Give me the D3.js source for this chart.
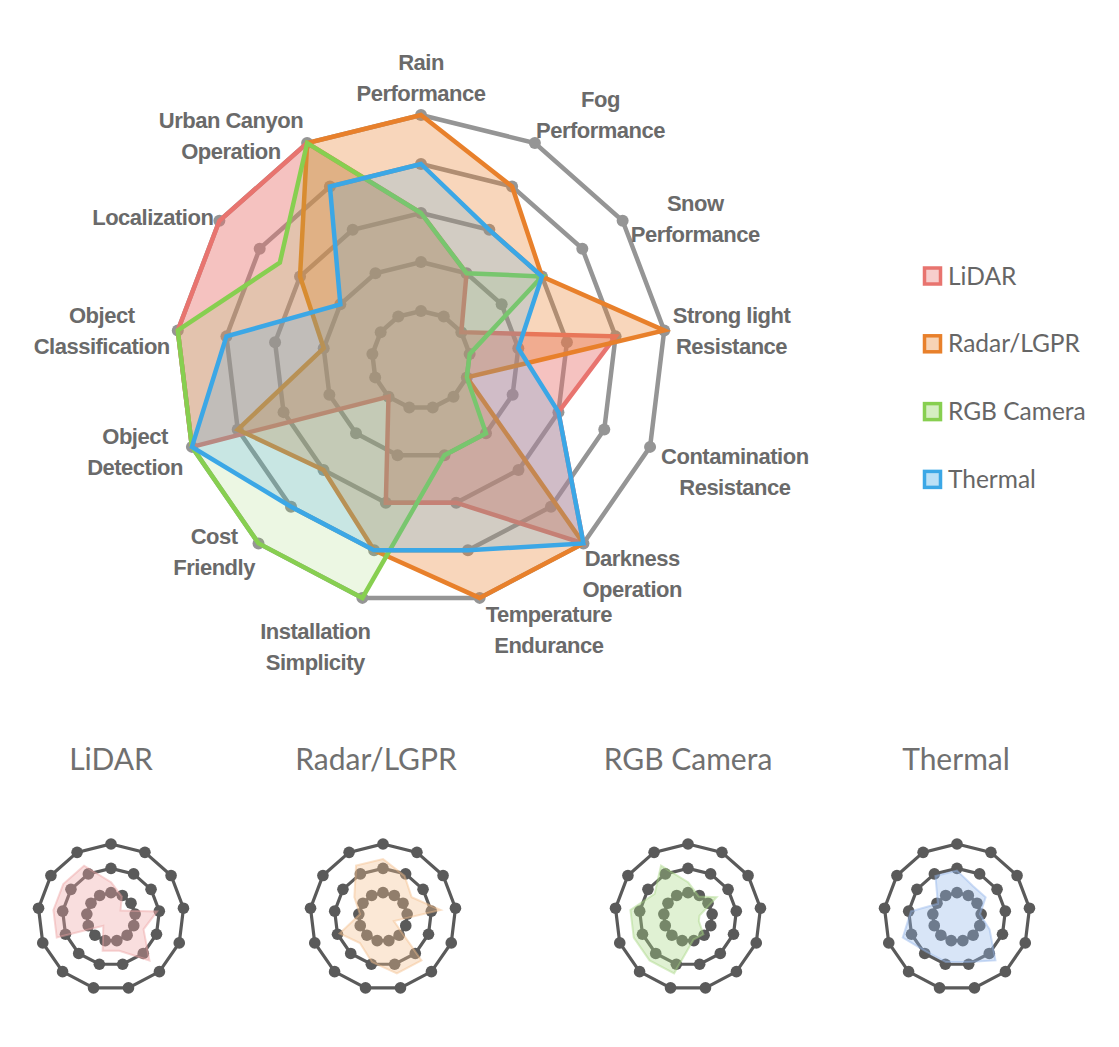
<!DOCTYPE html>
<html>
<head>
<meta charset="utf-8">
<script src="https://cdn.jsdelivr.net/npm/d3@7"></script>
<style>
body { margin: 0; background: #fff; }
.axis-label { font-family: "Liberation Sans", Arial, sans-serif; font-weight: bold; font-size: 22px; letter-spacing: -0.5px; fill: #6a6a6a; }
.legend-text { font-family: Lato, "Open Sans", sans-serif; font-size: 24.5px; fill: #666; }
.mini-title { font-family: Lato, "Open Sans", sans-serif; font-size: 30px; fill: #707070; }
</style>
</head>
<body>
<svg id="chart" width="1119" height="1047"></svg>
<script>

//------------------------------------------------------------------------------
// Data

var axisLabels = [
	['Rain', 'Performance'],
	['Fog', 'Performance'],
	['Snow', 'Performance'],
	['Strong light', 'Resistance'],
	['Contamination', 'Resistance'],
	['Darkness', 'Operation'],
	['Temperature', 'Endurance'],
	['Installation', 'Simplicity'],
	['Cost', 'Friendly'],
	['Object', 'Detection'],
	['Object', 'Classification'],
	['Localization'],
	['Urban Canyon', 'Operation']
];

var sensors = ['LiDAR', 'Radar/LGPR', 'RGB Camera', 'Thermal'];

var lidar   = [3, 2, 1, 4, 3, 5, 3, 3, 1, 5, 5, 5,   5];
var radar   = [5, 4, 3, 5, 1, 5, 5, 4, 3, 4, 2, 3,   5];
var rgb     = [3, 2, 3, 1, 1, 2, 2, 5, 5, 5, 5, 3.5, 5];
var thermal = [4, 3, 3, 2, 3, 5, 4, 4, 4, 5, 4, 2,   4];

var levels     = [1, 2, 3, 4, 5];
var miniLevels = [1, 2, 3];

//------------------------------------------------------------------------------
// Layout

var colors     = ['#e8746f', '#e8802b', '#87cf50', '#3ba7e6'];
var fillAlpha  = [0.44, 0.32, 0.16, 0.2];
var miniFill   = ['#eea3a3', '#f3bf8c', '#a9d884', '#94b6ea'];

var cx = 421, cy = 360;
var r = d3.scaleLinear().domain([0, 5]).range([0, 245]);
var angle = d3.scaleLinear().domain([0, axisLabels.length]).range([0, 2 * Math.PI]);

// small hand tweaks so labels sit where the original put them
var labelNudge = [
	[0, -7], [-5, -1], [2, 15], [2, 4], [5, 14], [-7, 7], [0, 2],
	[14, 19], [3, -15], [-3, -6], [-2, 4], [0, 5], [2, 20]
];

var miniX      = [111, 383, 688, 957];
var miniTitleX = [111, 376, 688, 956];
var miniY = 917;
var miniRing  = d3.scaleLinear().domain([0, 3]).range([0, 73]);
var miniShape = d3.scaleLinear().domain([0, 5]).range([0, 58]);

var svg = d3.select('#chart');

function point(scale, i, v)
{
	var a = angle(i);
	return [scale(v) * Math.sin(a), -scale(v) * Math.cos(a)];
}

var idx = d3.range(axisLabels.length);
var radarLine = d3.line().curve(d3.curveLinearClosed);

//------------------------------------------------------------------------------
// Main radar

var main = svg.append('g').attr('transform', 'translate(' + cx + ',' + cy + ')');

var grid = main.append('g').attr('class', 'grid');
levels.forEach(function (lv) {
	grid.append('path')
		.attr('d', radarLine(idx.map(function (i) { return point(r, i, lv); })))
		.attr('fill', 'none')
		.attr('stroke', '#959595')
		.attr('stroke-width', 4.5);
	grid.selectAll(null)
		.data(idx)
		.enter().append('circle')
		.attr('cx', function (i) { return point(r, i, lv)[0]; })
		.attr('cy', function (i) { return point(r, i, lv)[1]; })
		.attr('r', 6)
		.attr('fill', '#959595');
});

[lidar, radar, rgb, thermal].forEach(function (vals, s) {
	var d = radarLine(vals.map(function (v, i) { return point(r, i, v); }));
	main.append('path')
		.attr('d', d)
		.attr('fill', colors[s])
		.attr('fill-opacity', fillAlpha[s]);
	main.append('path')
		.attr('d', d)
		.attr('fill', 'none')
		.attr('stroke', colors[s])
		.attr('stroke-width', 4.5)
		.attr('stroke-linejoin', 'miter');
});

// axis labels
var labels = svg.append('g');
axisLabels.forEach(function (lines, i) {
	var a = angle(i), sn = Math.sin(a), cs = Math.cos(a);
	var vx = cx + r(5) * sn, vy = cy - r(5) * cs;
	var t = labels.append('text').attr('class', 'axis-label').attr('text-anchor', 'middle');
	lines.forEach(function (s, k) {
		t.append('tspan').attr('x', 0).attr('y', k * 31).text(s);
	});
	var w = t.node().getBBox().width;
	var gap = 6;
	var bx = Math.abs(sn) < 0.1 ? vx : (sn > 0 ? vx + gap + w / 2 : vx - gap - w / 2);
	var by = vy - cs * lines.length * 15.5;
	bx += labelNudge[i][0];
	by += labelNudge[i][1];
	var b1 = by - (lines.length - 1) * 15.5 + 8;
	t.attr('transform', 'translate(' + bx + ',' + b1 + ')');
});

//------------------------------------------------------------------------------
// Legend

var legend = svg.append('g').attr('transform', 'translate(923,276)');
sensors.forEach(function (name, s) {
	var g = legend.append('g').attr('transform', 'translate(0,' + (s * 67.8) + ')');
	g.append('rect')
		.attr('x', 1.5).attr('y', -8)
		.attr('width', 16).attr('height', 16)
		.attr('fill', colors[s]).attr('fill-opacity', 0.35)
		.attr('stroke', colors[s]).attr('stroke-width', 3.5);
	g.append('text')
		.attr('class', 'legend-text')
		.attr('x', 25).attr('y', 8.5)
		.text(name);
});

//------------------------------------------------------------------------------
// Small multiples

[lidar, radar, rgb, thermal].forEach(function (vals, s) {
	svg.append('text')
		.attr('class', 'mini-title')
		.attr('x', miniTitleX[s]).attr('y', 770)
		.attr('text-anchor', 'middle')
		.text(sensors[s]);

	var g = svg.append('g').attr('transform', 'translate(' + miniX[s] + ',' + miniY + ')');

	miniLevels.forEach(function (lv) {
		g.append('path')
			.attr('d', radarLine(idx.map(function (i) { return point(miniRing, i, lv); })))
			.attr('fill', 'none')
			.attr('stroke', '#5a5a5a')
			.attr('stroke-width', 3.2);
		g.selectAll(null)
			.data(idx)
			.enter().append('circle')
			.attr('cx', function (i) { return point(miniRing, i, lv)[0]; })
			.attr('cy', function (i) { return point(miniRing, i, lv)[1]; })
			.attr('r', 5.8)
			.attr('fill', '#5a5a5a');
	});

	var d = radarLine(vals.map(function (v, i) { return point(miniShape, i, v); }));
	g.append('path')
		.attr('d', d)
		.attr('fill', miniFill[s])
		.attr('fill-opacity', 0.36)
		.attr('stroke', miniFill[s])
		.attr('stroke-opacity', 0.45)
		.attr('stroke-width', 2);
});

</script>
</body>
</html>
